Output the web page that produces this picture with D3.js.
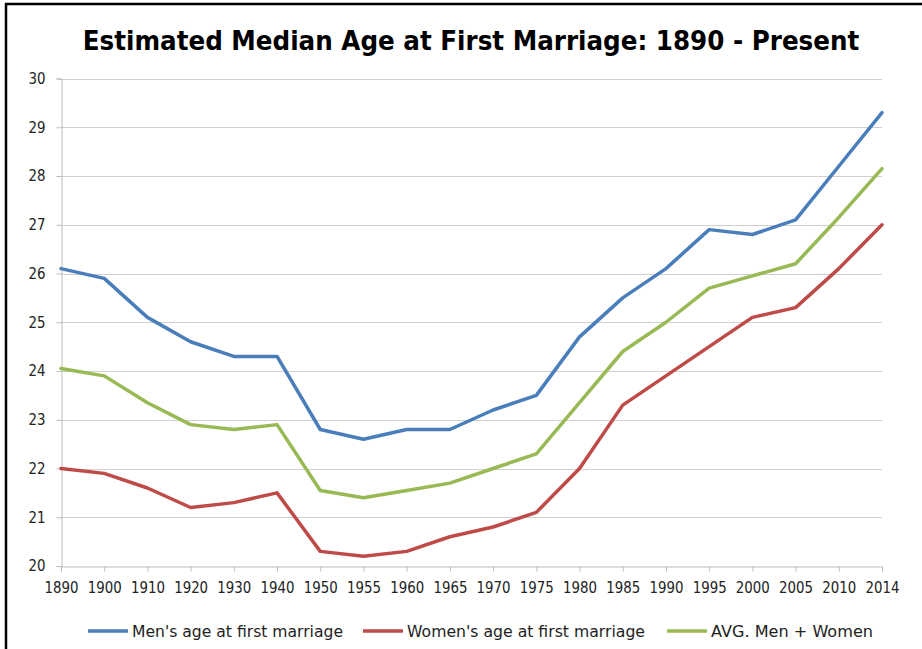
<!DOCTYPE html>
<html><head><meta charset="utf-8">
<script src="https://cdn.jsdelivr.net/npm/d3@7"></script>
<style>body{margin:0;background:#fff}svg{display:block}</style>
</head><body>
<svg id="c" width="922" height="649"></svg>
<script>
const years = ["1890","1900","1910","1920","1930","1940","1950","1955","1960","1965","1970","1975","1980","1985","1990","1995","2000","2005","2010","2014"];
const men   = [26.1,25.9,25.1,24.6,24.3,24.3,22.8,22.6,22.8,22.8,23.2,23.5,24.7,25.5,26.1,26.9,26.8,27.1,28.2,29.3];
const women = [22.0,21.9,21.6,21.2,21.3,21.5,20.3,20.2,20.3,20.6,20.8,21.1,22.0,23.3,23.9,24.5,25.1,25.3,26.1,27.0];
const avg   = [24.05,23.9,23.35,22.9,22.8,22.9,21.55,21.4,21.55,21.7,22.0,22.3,23.35,24.4,25.0,25.7,25.95,26.2,27.15,28.15];
const yTicks = [20,21,22,23,24,25,26,27,28,29,30];
const seriesNames = ["Men's age at first marriage","Women's age at first marriage","AVG. Men + Women"];
const colors = ["#4a7ebb","#be4b48","#98b954"];
const title = "Estimated Median Age at First Marriage: 1890 - Present";

const svg = d3.select("#c");
const font = "Tahoma, 'DejaVu Sans', Verdana, sans-serif";
// frame
svg.append("rect").attr("x",6).attr("y",4).attr("width",940).attr("height",700)
  .attr("fill","#fff").attr("stroke","#000").attr("stroke-width",2.5);

const L=61, R=882, T=78.5, B=566;
const x = d3.scalePoint().domain(years).range([L,R]);
const y = d3.scaleLinear().domain([20,30]).range([B,T]);

// gridlines
svg.append("g").selectAll("line").data(yTicks.slice(1)).join("line")
  .attr("x1",L).attr("x2",R).attr("y1",d=>Math.round(y(d))+0.5).attr("y2",d=>Math.round(y(d))+0.5)
  .attr("stroke","#d0d0d0").attr("stroke-width",1);

// y axis
const gy = svg.append("g").attr("transform",`translate(${L+0.5},0)`)
  .call(d3.axisLeft(y).tickValues(yTicks).tickSize(5).tickPadding(11).tickFormat(d3.format("d")));
gy.select(".domain").attr("stroke","#bcbcbc");
gy.selectAll(".tick line").attr("stroke","#bcbcbc");
gy.selectAll(".tick text").attr("font-family",font).attr("font-size",15).attr("fill","#222")
  .attr("textLength",17).attr("lengthAdjust","spacingAndGlyphs");

// x axis
const gx = svg.append("g").attr("transform",`translate(0,${B+0.5})`)
  .call(d3.axisBottom(x).tickSize(5).tickPadding(11).tickSizeOuter(0));
gx.select(".domain").attr("stroke","#bcbcbc");
gx.selectAll(".tick line").attr("stroke","#bcbcbc");
gx.selectAll(".tick text").attr("font-family",font).attr("font-size",15).attr("fill","#222")
  .attr("textLength",34).attr("lengthAdjust","spacingAndGlyphs");

// lines
const line = d3.line().x((d,i)=>x(years[i])).y(d=>y(d));
[men,women,avg].forEach((s,k)=>{
  svg.append("path").datum(s).attr("d",line).attr("fill","none")
    .attr("stroke",colors[k]).attr("stroke-width",3.5)
    .attr("stroke-linejoin","round").attr("stroke-linecap","round");
});

// title: fit width naturally, then stretch vertically
const tg = svg.append("g");
const tt = tg.append("text").attr("x",0).attr("y",0).attr("text-anchor","middle")
  .attr("font-family",font).attr("font-weight","bold").attr("font-size",27)
  .attr("fill","#000").text(title);
const w0 = tt.node().getComputedTextLength();
const fs = Math.min(27, 27*777/w0);
tt.attr("font-size",fs);
tg.attr("transform",`translate(471,50) scale(1,${27/fs})`);

// legend
const legX = [88,363,667];
const legW = [211,238,162];
seriesNames.forEach((n,k)=>{
  const g = svg.append("g");
  g.append("line").attr("x1",legX[k]).attr("x2",legX[k]+40).attr("y1",631).attr("y2",631)
    .attr("stroke",colors[k]).attr("stroke-width",3.5);
  g.append("text").attr("x",legX[k]+44).attr("y",637).attr("font-family",font).attr("font-size",16)
    .attr("fill","#222").attr("textLength",legW[k]).attr("lengthAdjust","spacingAndGlyphs").text(n);
});
</script>
</body></html>
